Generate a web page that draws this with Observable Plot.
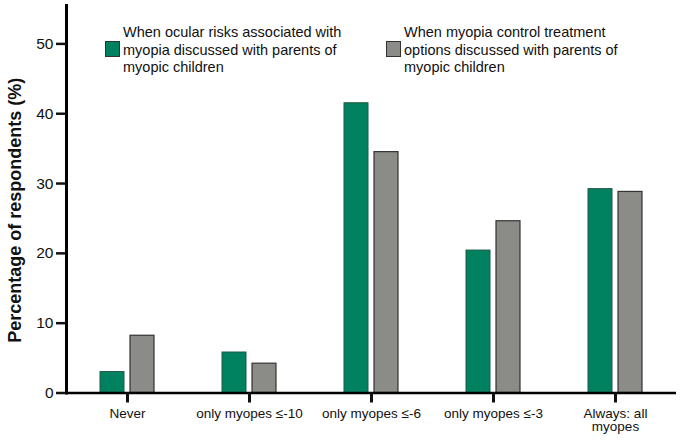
<!DOCTYPE html>
<html><head><meta charset="utf-8">
<script src="https://cdn.jsdelivr.net/npm/d3@7"></script>
<script src="https://cdn.jsdelivr.net/npm/@observablehq/plot@0.6"></script>
<style>
body{margin:0;background:#fff;}
#wrap{position:relative;width:684px;height:441px;font-family:"Liberation Sans",Arial,sans-serif;}
.leg{position:absolute;font-size:14.5px;line-height:17.5px;color:#111;white-space:nowrap;}
.sw{position:absolute;width:15px;height:16px;box-sizing:border-box;border:1px solid #333;}
</style></head><body><div id="wrap"></div>
<script>
const categories = ["Never", "only myopes ≤-10", "only myopes ≤-6", "only myopes ≤-3", "Always: all\nmyopes"];
const series = [
  "When ocular risks associated with\nmyopia discussed with parents of\nmyopic children",
  "When myopia control treatment\noptions discussed with parents of\nmyopic children"
];
const riskValues = [3.0, 5.8, 41.5, 20.4, 29.2];
const treatmentValues = [8.2, 4.2, 34.5, 24.6, 28.8];
const yTicks = [0, 10, 20, 30, 40, 50];
const colors = ["#00815f", "#8b8b87"];
const strokes = ["#1f5a47", "#333331"];
const yLabel = "Percentage of respondents (%)";

const data = categories.flatMap((c, i) => [
  {category: c, series: series[0], value: riskValues[i]},
  {category: c, series: series[1], value: treatmentValues[i]}
]);

const chart = Plot.plot({
  width: 684, height: 441,
  marginLeft: 64, marginRight: 7, marginTop: 5, marginBottom: 48.5,
  style: {fontFamily: "Liberation Sans, Arial, sans-serif", background: "#fff", color: "#111"},
  fx: {domain: categories, padding: 0, axis: null, label: null},
  x: {domain: series, paddingInner: 0.19, paddingOuter: 1.07, axis: null},
  y: {domain: [0, 55.5], axis: null},
  marks: [
    Plot.barY(data.filter(d => d.series === series[0]), {fx: "category", x: "series", y: "value", fill: colors[0], stroke: strokes[0], strokeWidth: 1}),
    Plot.barY(data.filter(d => d.series === series[1]), {fx: "category", x: "series", y: "value", fill: colors[1], stroke: strokes[1], strokeWidth: 1.2}),
    Plot.ruleY([0], {stroke: "#000", strokeWidth: 2.5}),
    Plot.frame({anchor: "left", stroke: "#000", strokeWidth: 3, facetAnchor: "left"}),
    Plot.axisY({ticks: yTicks, tickSize: 10, tickPadding: 3, strokeWidth: 2.5, fontSize: 15.5, label: null, facetAnchor: "left"}),
    Plot.text([yLabel], {frameAnchor: "left", textAnchor: "middle", rotate: -90, dx: -51, dy: 11, fontSize: 18, fontWeight: "bold", fill: "#111", facetAnchor: "left"}),
    Plot.axisFx({anchor: "bottom", tickSize: 10, strokeWidth: 3, tickPadding: 5, fontSize: 13.5, label: null, lineHeight: 1.0})
  ]
});

const wrap = document.getElementById("wrap");
wrap.appendChild(chart);

const legendPos = [{sx: 105, tx: 123}, {sx: 386, tx: 404}];
series.forEach((s, i) => {
  const sw = document.createElement("div");
  sw.className = "sw";
  sw.style.left = legendPos[i].sx + "px";
  sw.style.top = "41px";
  sw.style.background = colors[i];
  wrap.appendChild(sw);
  const t = document.createElement("div");
  t.className = "leg";
  t.style.left = legendPos[i].tx + "px";
  t.style.top = "24px";
  t.innerHTML = s.split("\n").join("<br>");
  wrap.appendChild(t);
});
</script>
</body></html>
